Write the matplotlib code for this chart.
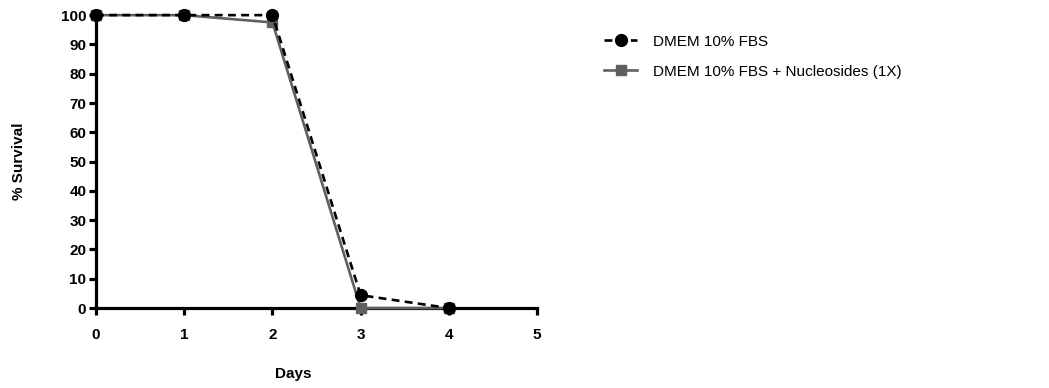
from matplotlib import pyplot as plt

# survival data
days = [0, 1, 2, 3, 4]
dmem_fbs = [100, 100, 100, 4.4, 0]
dmem_fbs_nuc = [100, 100, 97.5, 0, 0]
x_ticks = [0, 1, 2, 3, 4, 5]
y_ticks = [0, 10, 20, 30, 40, 50, 60, 70, 80, 90, 100]

plt.rcParams['font.family'] = ['Liberation Sans', 'DejaVu Sans']

fig = plt.figure(figsize=(10.49, 3.88), dpi=100)
ax = fig.add_axes([0.0915, 0.206, 0.4205, 0.755])

ax.plot(days, dmem_fbs_nuc, color='#606060', linestyle='-', linewidth=1.9,
        marker='s', markersize=7.5, label='DMEM 10% FBS + Nucleosides (1X)',
        clip_on=False, zorder=3)
ax.plot(days, dmem_fbs, color='black', linestyle=(0, (3, 2)), linewidth=1.9,
        marker='o', markersize=8.5, label='DMEM 10% FBS', clip_on=False, zorder=4)

ax.set_xlim(0, 5)
ax.set_ylim(0, 100)
ax.set_xticks(x_ticks)
ax.set_yticks(y_ticks)
ax.tick_params(direction='out', length=5, width=2.3, labelsize=11)
ax.tick_params(axis='x', pad=9)
ax.tick_params(axis='y', pad=2)
for lbl in ax.get_xticklabels() + ax.get_yticklabels():
    lbl.set_fontweight('bold')

for side in ['top', 'right']:
    ax.spines[side].set_visible(False)
for side in ['left', 'bottom']:
    ax.spines[side].set_linewidth(2.3)

ax.set_xlabel('Days', fontsize=11, fontweight='bold')
ax.xaxis.set_label_coords(0.447, -0.2)
ax.set_ylabel('% Survival', fontsize=11, fontweight='bold')
ax.yaxis.set_label_coords(-0.158, 0.5)

handles, labels = ax.get_legend_handles_labels()
ax.legend(handles[::-1], labels[::-1], loc='upper left', bbox_to_anchor=(1.12, 0.98),
          frameon=False, fontsize=11, handlelength=2.2, handletextpad=1.0,
          labelspacing=1.05)

fig.savefig('out.png', dpi=100)
